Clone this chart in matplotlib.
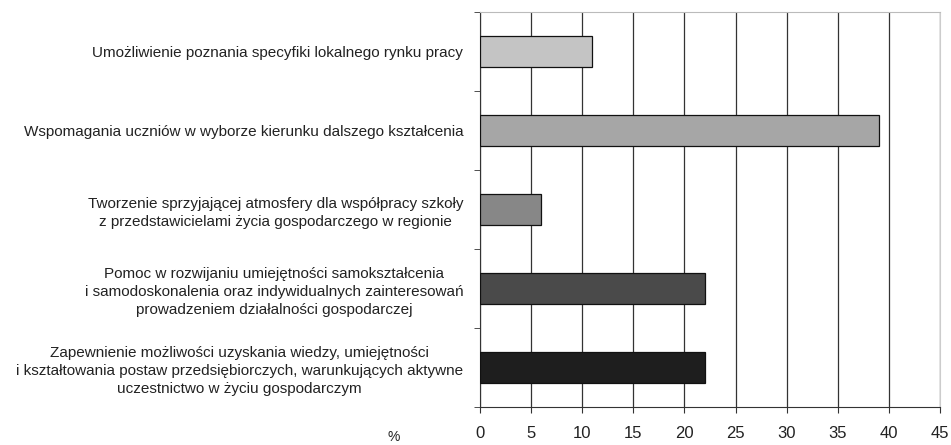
import matplotlib.pyplot as plt

plt.rcParams['font.family'] = ['Liberation Sans', 'DejaVu Sans']

labels = [
    'Umożliwienie poznania specyfiki lokalnego rynku pracy',
    'Wspomagania uczniów w wyborze kierunku dalszego kształcenia',
    'Tworzenie sprzyjającej atmosfery dla współpracy szkoły\n'
    'z przedstawicielami życia gospodarczego w regionie',
    'Pomoc w rozwijaniu umiejętności samokształcenia\n'
    'i samodoskonalenia oraz indywidualnych zainteresowań\n'
    'prowadzeniem działalności gospodarczej',
    'Zapewnienie możliwości uzyskania wiedzy, umiejętności\n'
    'i kształtowania postaw przedsiębiorczych, warunkujących aktywne\n'
    'uczestnictwo w życiu gospodarczym',
]
values = [11, 39, 6, 22, 22]
colors = ['#c4c4c4', '#a6a6a6', '#878787', '#4a4a4a', '#1e1e1e']
xticks = list(range(0, 46, 5))

fig = plt.figure(figsize=(9.51, 4.45), dpi=100)
ax = fig.add_axes([0.5047, 0.0854, 0.4837, 0.8876])

pos = list(range(len(values)))
ax.barh(pos, values, height=0.4, color=colors, edgecolor='#111111', linewidth=0.9, zorder=3)
ax.set_ylim(len(values) - 0.5, -0.5)
ax.set_xlim(0, 45)

ax.set_xticks(xticks)
ax.set_xticklabels([str(t) for t in xticks], fontsize=12, color='#222222')
ax.set_yticks(pos)
ax.set_yticklabels(labels, fontsize=11, color='#222222', multialignment='center', linespacing=1.35)
ax.set_yticks([p + 0.5 for p in [-1] + pos], minor=True)
ax.tick_params(axis='y', which='major', length=0, pad=12)
ax.tick_params(axis='y', which='minor', length=4, color='#333333', direction='out')
ax.tick_params(axis='x', length=4, color='#333333', pad=10)

ax.grid(axis='x', color='#333333', linewidth=0.9, zorder=0)
ax.spines['left'].set_color('#333333')
ax.spines['bottom'].set_color('#333333')
ax.spines['top'].set_color('#bbbbbb')
ax.spines['right'].set_color('#cccccc')

fig.text(0.407, 0.008, '%', fontsize=10, color='#222222')

fig.savefig('out.png', dpi=100)
